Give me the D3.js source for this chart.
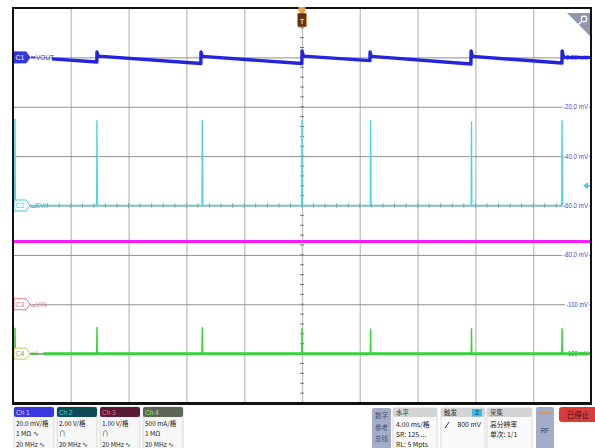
<!DOCTYPE html>
<html><head><meta charset="utf-8">
<script src="https://cdn.jsdelivr.net/npm/d3@7"></script>
<style>
body{margin:0;background:#fff}
svg{display:block}
text{font-family:"Liberation Sans Narrow","Liberation Sans","Noto Sans CJK SC",sans-serif}
.cjk{font-family:"Noto Sans CJK SC","Liberation Sans Narrow",sans-serif}
</style>
</head><body>
<svg id="c" width="595" height="448"></svg>
<script>
// ---------------- data ----------------
// Ch1 VOUT (mV) vs time (ms)
const ch1TimeMs = [-17.3, -14.2, -14.19, -14.1, -7.0, -6.99, -6.9, -0.01, 0, 0.1, 4.7, 4.71, 4.8, 11.69, 11.7, 11.8, 17.99, 18.0, 18.1, 20];
const ch1Mv     = [-0.6,  -1.9,   2.2,    0.5,  -2.5,   2.2,  0.4,  -2.5, 2.6, 0.5, -1.3, 2.2, 0.4, -2.7, 2.6, 0.4, -2.3, 2.6, 0.1, -0.1];
// switching events (ms)
const swEventMs = [-19.86, -14.19, -6.9, 0, 4.75, 11.73, 18.0];
const ch2PeakV  = [3.5, 3.45, 3.45, 3.45, 3.45, 3.4, 3.45];
const ch3LevelV = 1.27;
const ch4PeakMa = [262, 270, 268, 262, 255, 258, 258];
const ch1TickMv = [0, -20, -40, -60, -80, -100, -120];
const ch1TickLabels = ["0.00 mV", "-20.0 mV", "-40.0 mV", "-60.0 mV", "-80.0 mV", "-100 mV", "-120 mV"];
const chNames   = ["Ch 1", "Ch 2", "Ch 3", "Ch 4"];
const chRows    = [["20.0 mV/格", "1 MΩ ∿", "20 MHz ∿"], ["2.00 V/格", "∩", "20 MHz ∿"], ["1.00 V/格", "∩", "20 MHz ∿"], ["500 mA/格", "1 MΩ", "20 MHz ∿"]];
const traceLabels = ["VOUT", "SW", "VIN", "I"];
const badgeNames  = ["C1", "C2", "C3", "C4"];

// ---------------- layout ----------------
const svg = d3.select("#c");
const X0 = 13, X1 = 591, Y0 = 8, Y1 = 403;
const x = d3.scaleLinear().domain([-20, 20]).range([X0, X1]);
const yDiv = d3.scaleLinear().domain([-4, 4]).range([Y1, Y0]);
const y1 = v => yDiv(3 + v / 20);
const y2 = v => yDiv(0 + v / 2);
const y3 = v => yDiv(-2 + v / 1);
const y4 = v => yDiv(-3 + v / 500);

// grid via axes
const gx = svg.append("g").attr("transform", `translate(0,${Y1})`)
  .call(d3.axisBottom(x).tickValues(d3.range(-16, 17, 4)).tickSize(-(Y1 - Y0)).tickFormat(""));
gx.select(".domain").remove();
gx.selectAll("line").attr("stroke", "#c6c6c6").attr("stroke-width", 1.5);
const gy = svg.append("g").attr("transform", `translate(${X0},0)`)
  .call(d3.axisLeft(yDiv).tickValues(d3.range(-3, 4, 1)).tickSize(-(X1 - X0)).tickFormat(""));
gy.select(".domain").remove();
gy.selectAll("line").attr("stroke", "#909090").attr("stroke-width", 1);

// center minor ticks
const yc = yDiv(0), xc = x(0);
svg.append("g").selectAll("line").data(d3.range(-20, 20.01, 0.8)).join("line")
  .attr("x1", d => x(d)).attr("x2", d => x(d)).attr("y1", yc - 2).attr("y2", yc + 2)
  .attr("stroke", "#777").attr("stroke-width", 1);
svg.append("g").selectAll("line").data(d3.range(-4, 4.01, 0.2)).join("line")
  .attr("y1", d => yDiv(d)).attr("y2", d => yDiv(d)).attr("x1", xc - 2).attr("x2", xc + 2)
  .attr("stroke", "#777").attr("stroke-width", 1);

// right-side scale labels for Ch1
const lab = svg.append("g");
ch1TickMv.forEach((v, i) => {
  const yy = y1(v);
  const w = ch1TickLabels[i].length > 7 ? 25 : 22;
  lab.append("rect").attr("x", 588 - w - 1).attr("y", yy - 4.5).attr("width", w + 2).attr("height", 9).attr("fill", "#fff");
  lab.append("text").attr("x", 588 - w).attr("y", yy + 2.6)
    .attr("textLength", w).attr("lengthAdjust", "spacingAndGlyphs")
    .attr("font-size", 7.5).attr("fill", "#4a4ad0").text(ch1TickLabels[i]);
});

// ---------------- traces ----------------
const line = d3.line();
// Ch3 VIN
svg.append("path").attr("d", line([[x(-20), y3(ch3LevelV)], [x(20), y3(ch3LevelV)]]))
  .attr("stroke", "#ff1aff").attr("stroke-width", 3).attr("fill", "none");

// Ch4 current
const ch4Pts = [];
swEventMs.forEach((t, i) => {
  ch4Pts.push([x(t - 0.02), y4(0)], [x(t), y4(ch4PeakMa[i])], [x(t + 0.02), y4(0)]);
});
svg.append("path").attr("d", line(ch4Pts))
  .attr("stroke", "#33d433").attr("stroke-width", 1.4).attr("fill", "none");
svg.append("path").attr("d", line([[x(-17.9), y4(0)], [x(20), y4(0)]]))
  .attr("stroke", "#33d433").attr("stroke-width", 2.6).attr("fill", "none");

// Ch2 SW
const ch2Pts = [];
swEventMs.forEach((t, i) => {
  ch2Pts.push([x(t - 0.02), y2(0)], [x(t), y2(ch2PeakV[i])], [x(t + 0.02), y2(0)]);
});
svg.append("path").attr("d", line(ch2Pts))
  .attr("stroke", "#45d6e6").attr("stroke-width", 1.4).attr("fill", "none");

// Ch1 VOUT
svg.append("path").attr("d", line(ch1TimeMs.map((t, i) => [x(t), y1(ch1Mv[i])])))
  .attr("stroke", "#2424dc").attr("stroke-width", 3.4).attr("fill", "none").attr("stroke-linejoin", "round");

// ---------------- channel badges ----------------
const badgeStroke = ["#3535dc", "#45c8d8", "#e07896", "#c8c850"];
const badgeFill   = ["#3535dc", "#fff", "#fff", "#fff"];
const badgeText   = ["#fff", "#45c8d8", "#e07896", "#8a9a30"];
const labColor    = ["#4040d0", "#45c8d8", "#e07896", "#33c033"];
const badgeY = [y1(0), y2(0), y3(0), y4(0)];
badgeY.forEach((by, i) => {
  const g = svg.append("g");
  g.append("path").attr("d", `M14,${by - 5.5} L26,${by - 5.5} L30,${by} L26,${by + 5.5} L14,${by + 5.5} Z`)
    .attr("fill", badgeFill[i]).attr("stroke", badgeStroke[i]).attr("stroke-width", 1);
  g.append("text").attr("x", 20).attr("y", by + 2.6).attr("text-anchor", "middle")
    .attr("font-size", 7).attr("fill", badgeText[i]).text(badgeNames[i]);
  const dy = (i === 1 || i === 2) ? 2 : 0;
  g.append("line").attr("x1", 31).attr("x2", 35.5).attr("y1", by + dy).attr("y2", by + dy)
    .attr("stroke", labColor[i]).attr("stroke-width", i === 0 || i === 3 ? 2 : 1);
  g.append("text").attr("x", 36).attr("y", by + 2.5).attr("font-size", 6.5).attr("fill", labColor[i]).text(traceLabels[i]);
});

// trigger level arrow (Ch2, 800 mV)
const ty = y2(0.8);
svg.append("path").attr("d", `M583,${ty} L588,${ty - 3.5} L588,${ty + 3.5} Z`).attr("fill", "#45c8d8");
svg.append("line").attr("x1", 587).attr("x2", 591).attr("y1", ty).attr("y2", ty).attr("stroke", "#45c8d8").attr("stroke-width", 1.5);

// border
svg.append("rect").attr("x", X0).attr("y", Y0).attr("width", X1 - X0).attr("height", Y1 - Y0)
  .attr("fill", "none").attr("stroke", "#111").attr("stroke-width", 2);
svg.append("line").attr("x1", X0 - 1).attr("x2", X1 + 1).attr("y1", Y1 + 0.5).attr("y2", Y1 + 0.5).attr("stroke", "#111").attr("stroke-width", 3);

// trigger position marker T
svg.append("path").attr("d", `M${xc - 3.5},7 L${xc + 3.5},7 L${xc + 3.5},11 L${xc},14 L${xc - 3.5},11 Z`).attr("fill", "#f0a040");
svg.append("rect").attr("x", xc - 4.5).attr("y", 13).attr("width", 9).attr("height", 14).attr("rx", 1.5)
  .attr("fill", "#5e3510").attr("stroke", "#e09040").attr("stroke-width", 0.8);
svg.append("text").attr("x", xc).attr("y", 23.5).attr("text-anchor", "middle").attr("font-size", 7.5).attr("fill", "#fff").text("T");

// zoom icon
svg.append("path").attr("d", "M567,13 L590,13 L590,36 Z").attr("fill", "#8d96ab");
svg.append("circle").attr("cx", 584).attr("cy", 19).attr("r", 2.8).attr("fill", "none").attr("stroke", "#fff").attr("stroke-width", 1.2);
svg.append("line").attr("x1", 582).attr("y1", 21).attr("x2", 578.5).attr("y2", 24.5).attr("stroke", "#fff").attr("stroke-width", 1.6);

// faint top-right text
svg.append("text").attr("x", 589).attr("y", 5).attr("text-anchor", "end").attr("font-size", 5).attr("fill", "#c8c8c8").text("·· ··· ·····");

// ---------------- bottom panel ----------------
const hdrFill = ["#3838e0", "#0f4a55", "#5a1a33", "#5d6758"];
const hdrText = ["#dcdcff", "#45d0e0", "#e878a8", "#a8e070"];
const boxX = [14, 57, 100, 143];
chNames.forEach((n, i) => {
  const g = svg.append("g");
  g.append("rect").attr("x", boxX[i]).attr("y", 407).attr("width", 40).attr("height", 45).attr("rx", 2)
    .attr("fill", "#f6f6f6").attr("stroke", "#cfcfcf").attr("stroke-width", 0.8);
  g.append("rect").attr("x", boxX[i]).attr("y", 407).attr("width", 40).attr("height", 10).attr("rx", 2).attr("fill", hdrFill[i]);
  g.append("text").attr("x", boxX[i] + 2).attr("y", 414.5).attr("font-size", 6.5).attr("fill", hdrText[i]).text(n);
  chRows[i].forEach((r, j) => {
    g.append("text").attr("class", "cjk").attr("x", boxX[i] + 2).attr("y", 425.5 + j * 10.5)
      .attr("font-size", 6.5).attr("fill", "#222").text(r);
  });
});

// right side controls
const btnFill = "#a3acc9";
svg.append("rect").attr("x", 372).attr("y", 408).attr("width", 19).attr("height", 42).attr("rx", 2).attr("fill", btnFill);
["数字", "参考", "总线"].forEach((t, j) => {
  svg.append("text").attr("class", "cjk").attr("x", 381.5).attr("y", 418 + j * 11.5).attr("text-anchor", "middle")
    .attr("font-size", 6.5).attr("fill", "#4a5070").text(t);
});
const panels = [
  {x: 393, w: 44, title: "水平", rows: ["4.00 ms/格", "SR: 125 ...", "RL: 5 Mpts"]},
  {x: 441, w: 44, title: "触发", rows: []},
  {x: 487, w: 45, title: "采集", rows: ["高分辨率", "单次: 1/1"]}
];
panels.forEach(p => {
  svg.append("rect").attr("x", p.x).attr("y", 408).attr("width", p.w).attr("height", 44).attr("rx", 2)
    .attr("fill", "#fafafa").attr("stroke", "#cfcfcf").attr("stroke-width", 0.8);
  svg.append("rect").attr("x", p.x).attr("y", 408).attr("width", p.w).attr("height", 9).attr("rx", 2).attr("fill", "#d4d4d4");
  svg.append("text").attr("class", "cjk").attr("x", p.x + 3).attr("y", 415.3).attr("font-size", 6.5).attr("fill", "#333").text(p.title);
  p.rows.forEach((r, j) => {
    svg.append("text").attr("class", "cjk").attr("x", p.x + 3).attr("y", 426.5 + j * 10)
      .attr("font-size", 6.8).attr("fill", "#222").text(r);
  });
});
svg.append("rect").attr("x", 472).attr("y", 409).attr("width", 10).attr("height", 7.5).attr("fill", "#33bde0");
svg.append("text").attr("x", 477).attr("y", 415).attr("text-anchor", "middle").attr("font-size", 6.5).attr("fill", "#123").text("2");
svg.append("line").attr("x1", 445).attr("y1", 428).attr("x2", 449).attr("y2", 422).attr("stroke", "#222").attr("stroke-width", 0.9);
svg.append("text").attr("x", 481).attr("y", 426.5).attr("text-anchor", "end").attr("font-size", 6.8).attr("fill", "#222").text("800 mV");

svg.append("rect").attr("x", 536).attr("y", 407).attr("width", 18).attr("height", 43).attr("rx", 2).attr("fill", btnFill);
svg.append("line").attr("x1", 539).attr("x2", 551).attr("y1", 413).attr("y2", 413).attr("stroke", "#e89050").attr("stroke-width", 1.8);
svg.append("text").attr("x", 545).attr("y", 433).attr("text-anchor", "middle").attr("font-size", 6.5).attr("fill", "#3a3f55").text("RF");

svg.append("rect").attr("x", 559).attr("y", 407).attr("width", 40).attr("height", 15).attr("rx", 3).attr("fill", "#d83c3c");
svg.append("text").attr("class", "cjk").attr("x", 578).attr("y", 417.5).attr("text-anchor", "middle").attr("font-size", 7.5).attr("fill", "#3a0e0e").text("已停止");
</script>
</body></html>
